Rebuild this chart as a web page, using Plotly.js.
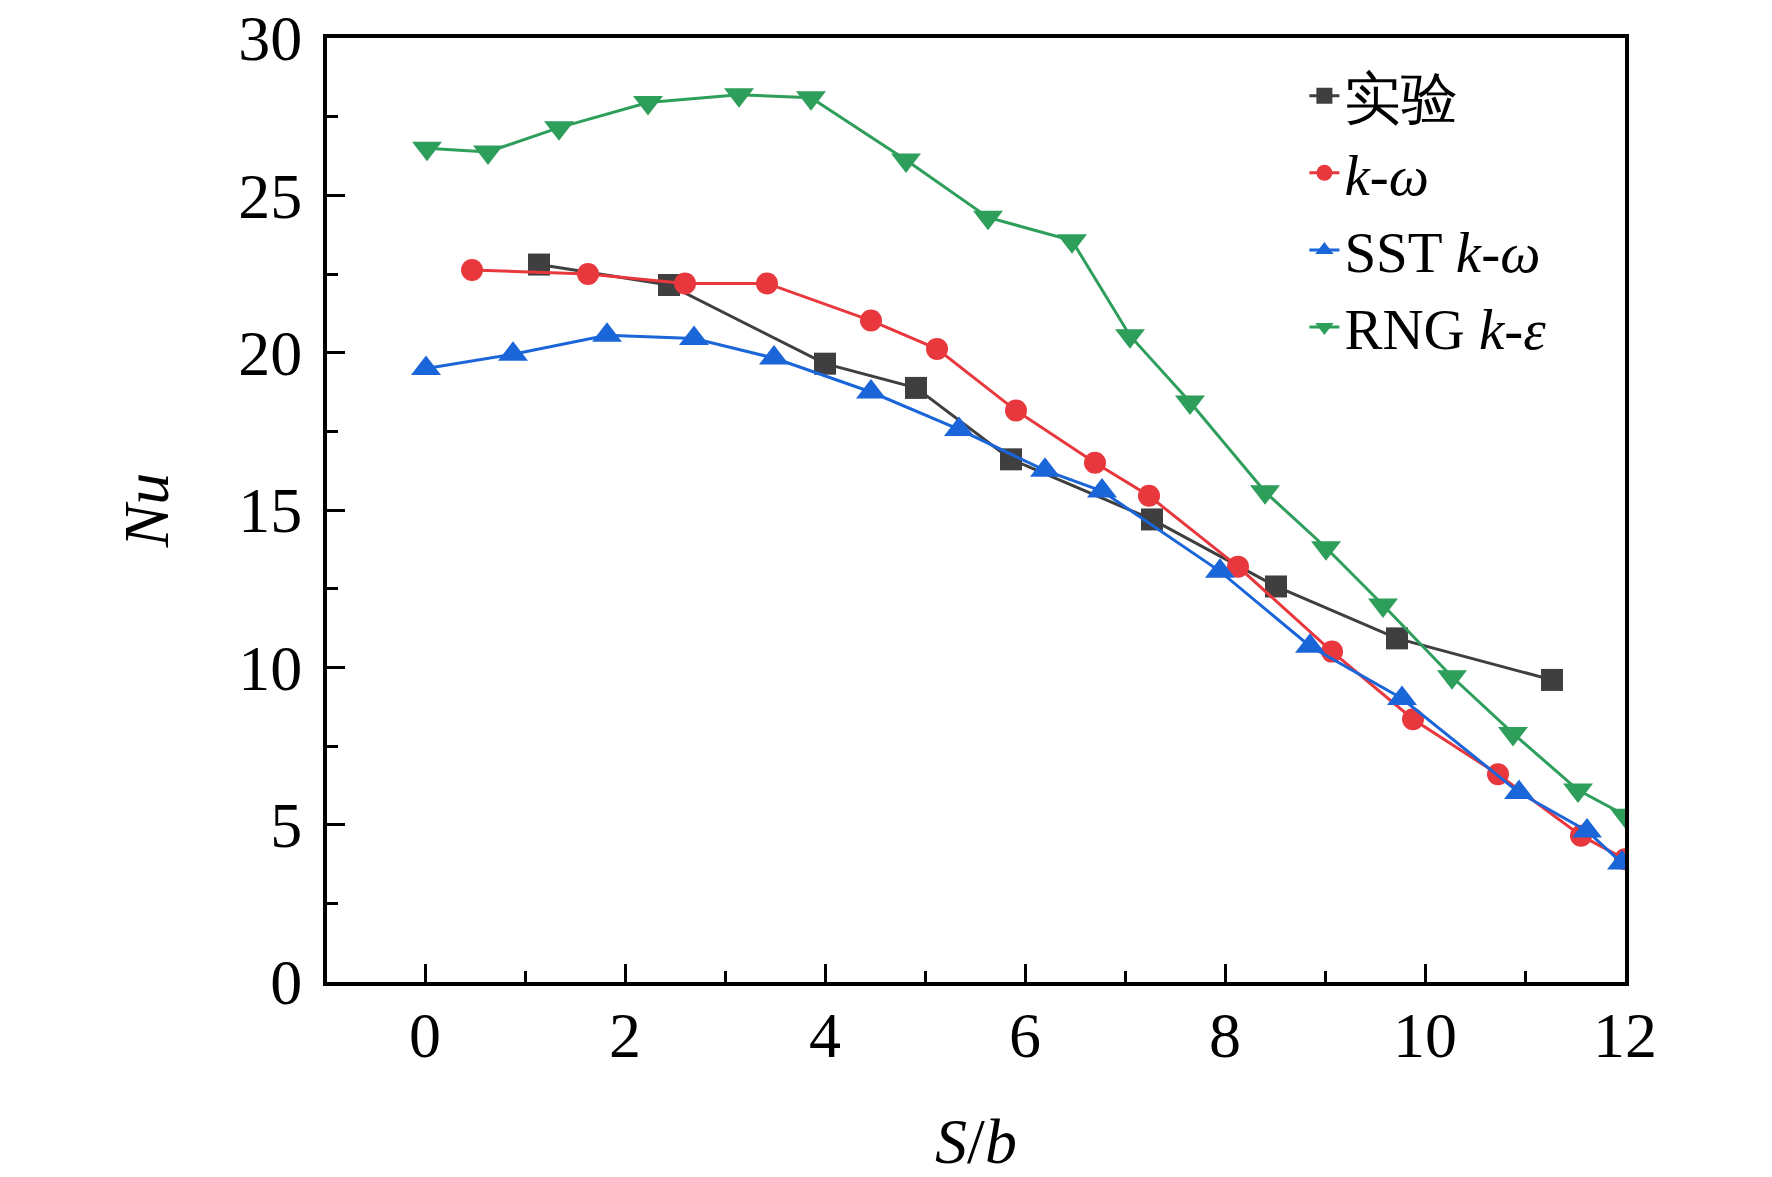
<!DOCTYPE html>
<html>
<head>
<meta charset="utf-8">
<script src="https://cdn.plot.ly/plotly-3.0.1.min.js"></script>
<style>
  body { margin: 0; background: #fff; }
  #chart { width: 1772px; height: 1177px; }
</style>
</head>
<body>
<div id="chart"></div>
<script>
// S/b positions and Nu values
const expX = [1.14, 2.44, 4.0, 4.91, 5.86, 7.27, 8.51, 9.72, 11.27];
const expY = [22.8, 22.15, 19.65, 18.88, 16.61, 14.7, 12.57, 10.92, 9.6];

const kwX = [0.47, 1.63, 2.6, 3.42, 4.46, 5.12, 5.91, 6.7, 7.24, 8.13, 9.07, 9.88, 10.73, 11.56, 12.0];
const kwY = [22.63, 22.5, 22.2, 22.2, 21.02, 20.12, 18.16, 16.5, 15.45, 13.2, 10.5, 8.35, 6.6, 4.65, 3.9];

const sstX = [0.01, 0.88, 1.82, 2.69, 3.49, 4.46, 5.34, 6.2, 6.77, 7.95, 8.85, 9.77, 10.94, 11.62, 11.97];
const sstY = [19.5, 19.95, 20.55, 20.45, 19.83, 18.75, 17.56, 16.26, 15.6, 13.05, 10.67, 9.01, 6.02, 4.8, 3.78];

const rngX = [0.02, 0.63, 1.34, 2.23, 3.14, 3.86, 4.81, 5.63, 6.47, 7.05, 7.65, 8.4, 9.01, 9.58, 10.27, 10.88, 11.53, 12.0];
const rngY = [26.5, 26.38, 27.15, 27.95, 28.2, 28.1, 26.12, 24.3, 23.56, 20.54, 18.43, 15.58, 13.8, 11.98, 9.7, 7.9, 6.1, 5.3];

const names = ['实验', '<i>k</i>-<i>ω</i>', 'SST <i>k</i>-<i>ω</i>', 'RNG <i>k</i>-<i>ε</i>'];

const serif = 'Liberation Serif';

function series(x, y, name, color, symbol, size) {
    return {
        x: x, y: y, name: name,
        type: 'scatter', mode: 'lines+markers',
        line: { color: color, width: 3 },
        marker: { color: color, symbol: symbol, size: size }
    };
}

const traces = [
    series(expX, expY, names[0], '#3f3f3f', 'square', 22),
    series(kwX, kwY, names[1], '#e8383d', 'circle', 22),
    series(sstX, sstY, names[2], '#1a66d9', 'triangle-up', 26),
    series(rngX, rngY, names[3], '#2e9e5b', 'triangle-down', 26)
];

const layout = {
    width: 1772,
    height: 1177,
    margin: { l: 327, r: 147, t: 38, b: 195 },
    paper_bgcolor: '#fff',
    plot_bgcolor: '#fff',
    font: { family: serif, color: '#000', size: 64 },
    showlegend: true,
    legend: {
        x: 0.753, y: 0.985, xanchor: 'left', yanchor: 'top',
        bgcolor: 'rgba(0,0,0,0)',
        font: { family: serif, size: 57, color: '#000' },
        tracegroupgap: 0
    },
    xaxis: {
        range: [-0.98, 12],
        tickvals: [0, 2, 4, 6, 8, 10, 12],
        ticks: 'inside', ticklen: 18, tickwidth: 3, tickcolor: '#000',
        minor: { dtick: 1, tick0: 0, ticks: 'inside', ticklen: 11, tickwidth: 3, tickcolor: '#000' },
        showline: true, linecolor: '#000', linewidth: 4, mirror: true,
        showgrid: false, zeroline: false,
        ticklabelstandoff: -6,
        tickfont: { family: serif, size: 64 },
        title: { text: '<i>S</i>/<i>b</i>', font: { family: serif, size: 64 }, standoff: 55 }
    },
    yaxis: {
        range: [0, 30],
        tickvals: [0, 5, 10, 15, 20, 25, 30],
        ticks: 'inside', ticklen: 18, tickwidth: 3, tickcolor: '#000',
        minor: { dtick: 2.5, tick0: 0, ticks: 'inside', ticklen: 11, tickwidth: 3, tickcolor: '#000' },
        showline: true, linecolor: '#000', linewidth: 4, mirror: true,
        showgrid: false, zeroline: false,
        ticklabelstandoff: 8,
        tickfont: { family: serif, size: 64 },
        title: { text: '<i>Nu</i>', font: { family: serif, size: 64 }, standoff: 50 }
    }
};

Plotly.newPlot('chart', traces, layout, { staticPlot: true });
</script>
</body>
</html>
